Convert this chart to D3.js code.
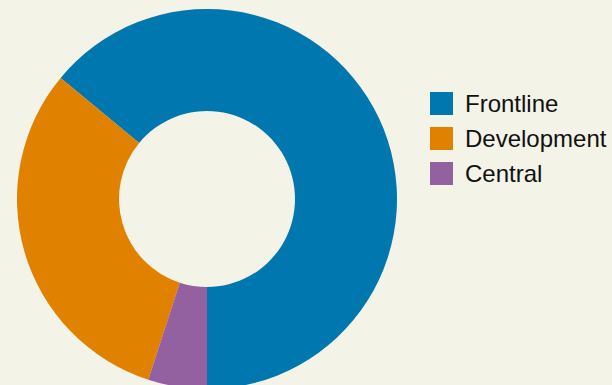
<!DOCTYPE html>
<html>
<head>
<meta charset="utf-8">
<script src="https://cdn.jsdelivr.net/npm/d3@7"></script>
<style>
  body { margin: 0; background: #f4f3e7; }
  svg { display: block; }
</style>
</head>
<body>
<div id="chart"></div>
<script>
// chart size
const width = 612;
const height = 385;

// data
const categories = ["Frontline", "Development", "Central"];
const values = [64, 31, 5];
const colors = ["#0077ae", "#e08100", "#9360a0"];

const cx = 207, cy = 199;
const outerR = 190, innerR = 88;

const svg = d3.select("#chart")
  .append("svg")
  .attr("width", width)
  .attr("height", height);

svg.append("rect")
  .attr("width", width)
  .attr("height", height)
  .attr("fill", "#f4f3e7");

const color = d3.scaleOrdinal().domain(categories).range(colors);

// start at the bottom and go counter-clockwise
const pie = d3.pie()
  .sort(null)
  .value((d, i) => values[i])
  .startAngle(Math.PI)
  .endAngle(-Math.PI);

const arc = d3.arc()
  .innerRadius(innerR)
  .outerRadius(outerR);

svg.append("g")
  .attr("transform", `translate(${cx},${cy})`)
  .selectAll("path")
  .data(pie(categories))
  .enter()
  .append("path")
    .attr("d", arc)
    .attr("fill", d => color(d.data));

// legend
const legend = svg.append("g")
  .attr("transform", "translate(430,92)");

const item = legend.selectAll("g")
  .data(categories)
  .enter()
  .append("g")
    .attr("transform", (d, i) => `translate(0,${i * 35})`);

item.append("rect")
  .attr("width", 23)
  .attr("height", 23)
  .attr("fill", d => color(d));

item.append("text")
  .attr("x", 35)
  .attr("y", 20)
  .attr("font-family", "Liberation Sans, Arial, sans-serif")
  .attr("font-size", "24px")
  .attr("fill", "#111")
  .text(d => d);
</script>
</body>
</html>
